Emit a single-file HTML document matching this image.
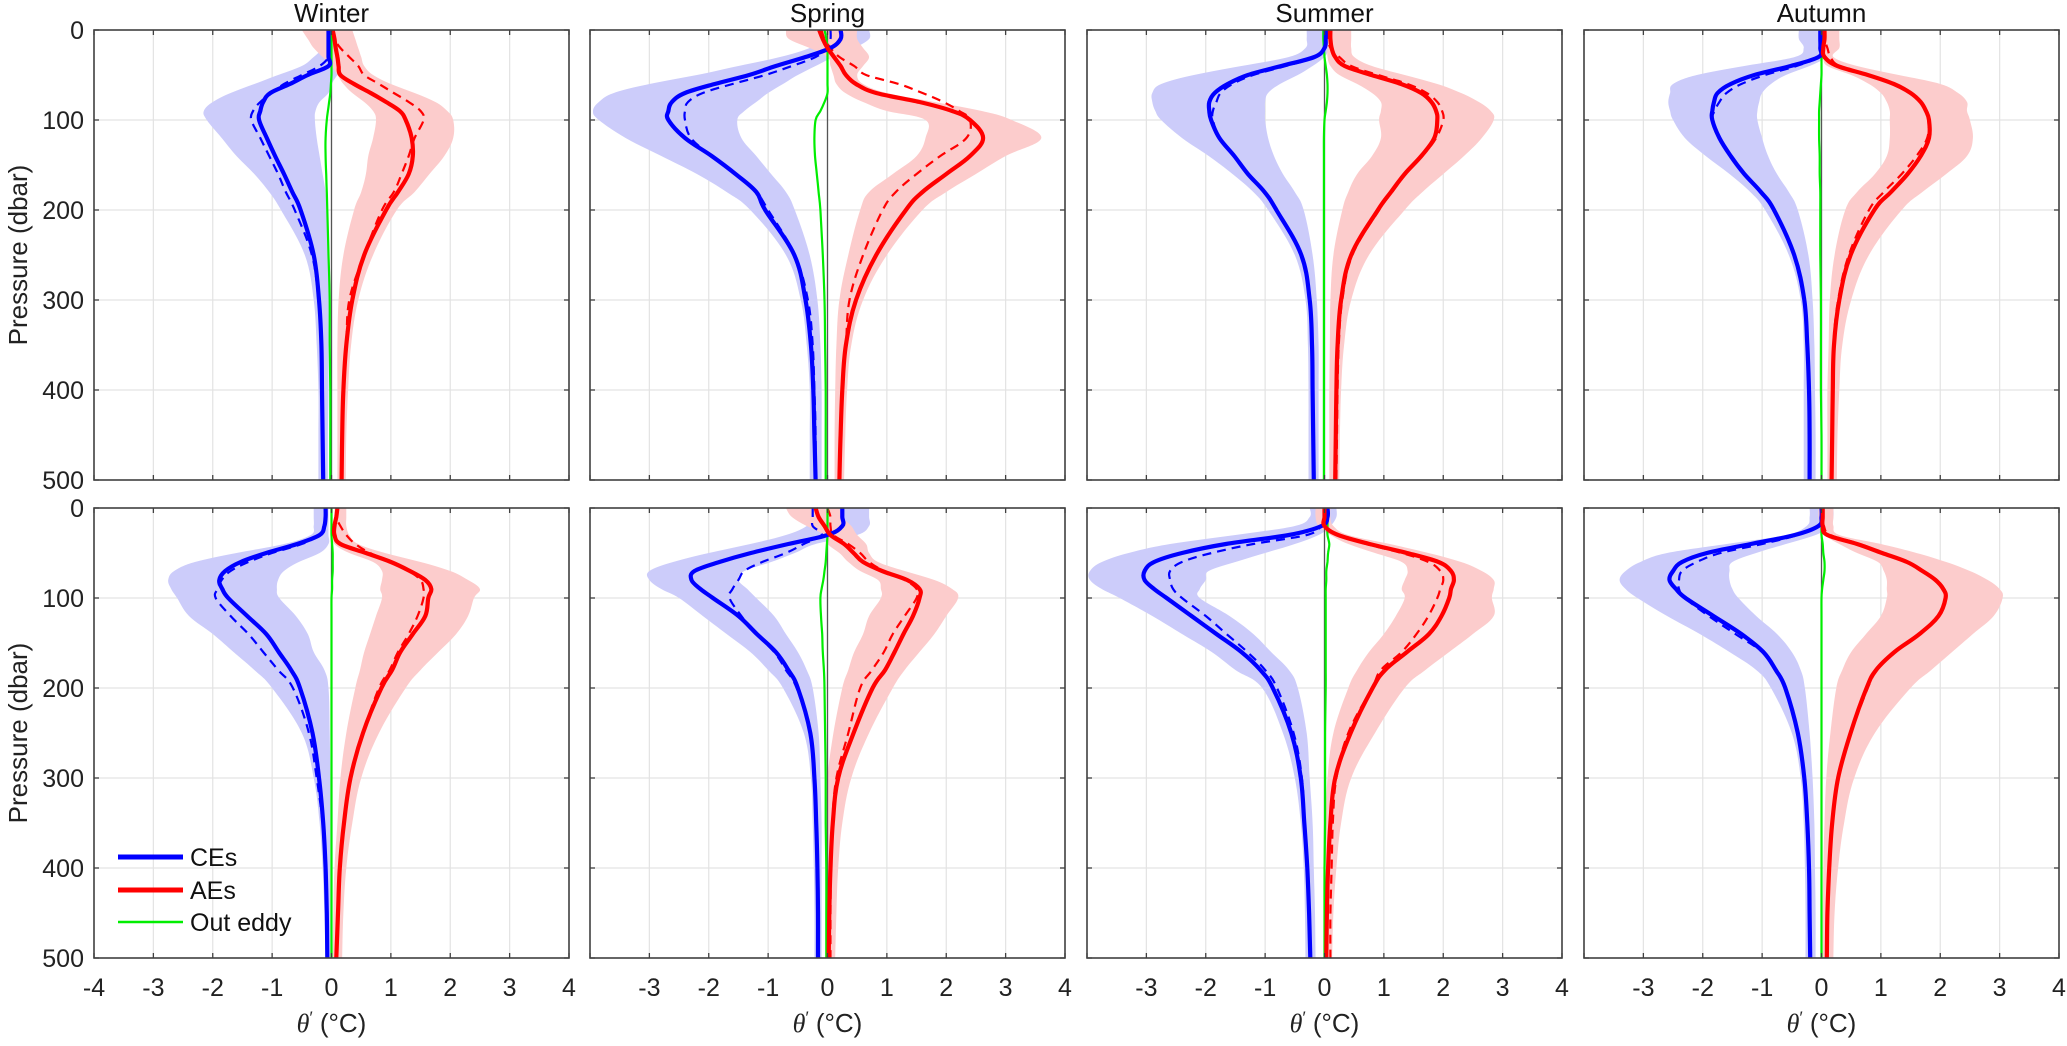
<!DOCTYPE html>
<html><head><meta charset="utf-8"><style>
html,body{margin:0;padding:0;background:#fff;}
svg{display:block;font-family:"Liberation Sans",Arial,sans-serif;}
</style></head><body>
<svg id="fig" width="2067" height="1046" viewBox="0 0 2067 1046" xmlns="http://www.w3.org/2000/svg"></svg>
<script>
const depths=[0,10,20,30,40,50,60,70,80,90,100,120,140,160,180,200,250,300,350,400,450,500];
const xTicks=[-4,-3,-2,-1,0,1,2,3,4];
const yTicks=[0,100,200,300,400,500];
const titles=["Winter","Spring","Summer","Autumn","","","",""];
// Panel 0: Winter top
const p0ceM=[-0.05,-0.05,-0.05,-0.05,-0.05,-0.4,-0.7,-1.03,-1.15,-1.2,-1.22,-1.09,-0.95,-0.8,-0.66,-0.52,-0.3,-0.21,-0.17,-0.16,-0.15,-0.14];
const p0ceD=[-0.05,-0.05,-0.05,-0.05,-0.2,-0.5,-0.8,-1.0,-1.2,-1.32,-1.35,-1.2,-1.05,-0.9,-0.77,-0.62,-0.33,-0.22,-0.17,-0.16,-0.15,-0.14];
const p0ceLo=[-0.1,-0.1,-0.15,-0.3,-0.5,-0.9,-1.3,-1.7,-2.0,-2.15,-2.1,-1.85,-1.6,-1.3,-1.05,-0.85,-0.45,-0.3,-0.25,-0.22,-0.22,-0.22];
const p0ceHi=[0.3,0.35,0.35,0.3,0.2,0.1,0.0,-0.05,-0.2,-0.27,-0.28,-0.25,-0.2,-0.15,-0.1,-0.08,-0.05,-0.04,-0.05,-0.05,-0.06,-0.06];
const p0aeM=[0.02,0.05,0.07,0.1,0.12,0.15,0.38,0.66,0.92,1.15,1.25,1.35,1.37,1.3,1.12,0.92,0.55,0.35,0.25,0.2,0.18,0.17];
const p0aeD=[0.02,0.05,0.15,0.3,0.45,0.55,0.8,1.05,1.3,1.5,1.55,1.4,1.3,1.18,1.05,0.85,0.55,0.3,0.25,0.2,0.18,0.17];
const p0aeLo=[-0.5,-0.4,-0.3,-0.15,0.0,0.1,0.2,0.35,0.55,0.7,0.75,0.7,0.62,0.58,0.5,0.38,0.2,0.12,0.1,0.1,0.1,0.1];
const p0aeHi=[0.35,0.4,0.45,0.5,0.55,0.7,1.0,1.4,1.75,1.95,2.05,2.05,1.9,1.65,1.4,1.1,0.7,0.45,0.33,0.28,0.25,0.24];
const p0out=[0,0,0,0,0,0,-0.01,-0.02,-0.04,-0.06,-0.08,-0.1,-0.1,-0.09,-0.08,-0.07,-0.05,-0.03,-0.03,-0.02,-0.02,-0.02];
// Panel 1: Spring top
const p1ceM=[0.22,0.22,0.05,-0.37,-0.87,-1.32,-1.9,-2.4,-2.62,-2.68,-2.68,-2.4,-1.95,-1.55,-1.2,-1.05,-0.56,-0.37,-0.28,-0.24,-0.22,-0.2];
const p1ceD=[0.05,0.05,0.0,-0.2,-0.6,-1.05,-1.6,-2.1,-2.35,-2.4,-2.4,-2.3,-1.95,-1.55,-1.2,-1.0,-0.55,-0.33,-0.25,-0.22,-0.2,-0.2];
const p1ceLo=[-0.1,-0.1,-0.3,-0.8,-1.5,-2.2,-3.0,-3.6,-3.85,-3.95,-3.85,-3.4,-2.8,-2.2,-1.7,-1.3,-0.7,-0.45,-0.35,-0.3,-0.3,-0.3];
const p1ceHi=[0.7,0.7,0.45,0.1,-0.2,-0.5,-0.75,-1.0,-1.2,-1.4,-1.52,-1.45,-1.2,-0.95,-0.7,-0.55,-0.3,-0.17,-0.12,-0.1,-0.1,-0.1];
const p1aeM=[-0.14,-0.08,0.0,0.11,0.22,0.31,0.48,0.82,1.55,2.1,2.4,2.62,2.4,2.0,1.6,1.32,0.82,0.48,0.31,0.25,0.22,0.2];
const p1aeD=[-0.1,-0.05,0.05,0.2,0.45,0.65,1.2,1.6,1.95,2.22,2.4,2.34,1.9,1.5,1.15,0.93,0.6,0.37,0.31,0.25,0.22,0.2];
const p1aeLo=[-0.7,-0.65,-0.3,0.0,0.05,0.1,0.15,0.3,0.6,1.0,1.65,1.65,1.5,1.1,0.7,0.55,0.35,0.2,0.15,0.13,0.12,0.12];
const p1aeHi=[0.5,0.5,0.6,0.7,0.6,0.5,0.6,1.0,1.8,2.6,3.1,3.6,3.0,2.5,2.0,1.6,1.0,0.6,0.4,0.33,0.3,0.28];
const p1out=[-0.05,-0.02,0,0,0,0,0,0,-0.05,-0.12,-0.2,-0.22,-0.21,-0.18,-0.15,-0.12,-0.08,-0.05,-0.04,-0.03,-0.03,-0.03];
// Panel 2: Summer top
const p2ceM=[0.02,0.02,0.0,-0.17,-0.73,-1.29,-1.63,-1.85,-1.94,-1.94,-1.91,-1.77,-1.52,-1.29,-1.01,-0.81,-0.39,-0.25,-0.21,-0.2,-0.19,-0.18];
const p2ceD=[0.02,0.02,0.0,-0.15,-0.65,-1.2,-1.55,-1.75,-1.82,-1.88,-1.88,-1.77,-1.52,-1.29,-1.01,-0.81,-0.39,-0.25,-0.21,-0.2,-0.19,-0.18];
const p2ceLo=[-0.3,-0.3,-0.32,-0.6,-1.4,-2.2,-2.75,-2.9,-2.9,-2.85,-2.75,-2.4,-1.95,-1.55,-1.2,-0.95,-0.5,-0.32,-0.28,-0.27,-0.27,-0.27];
const p2ceHi=[0.3,0.3,0.1,0.0,-0.2,-0.45,-0.75,-0.95,-1.0,-1.0,-1.0,-0.95,-0.85,-0.7,-0.5,-0.35,-0.2,-0.13,-0.1,-0.1,-0.1,-0.1];
const p2aeM=[0.1,0.1,0.12,0.18,0.34,0.79,1.29,1.63,1.8,1.88,1.9,1.85,1.63,1.35,1.12,0.9,0.45,0.28,0.22,0.2,0.19,0.18];
const p2aeD=[0.05,0.07,0.1,0.25,0.45,0.9,1.4,1.72,1.9,1.98,2.0,1.88,1.65,1.37,1.14,0.92,0.47,0.3,0.24,0.22,0.21,0.2];
const p2aeLo=[0.05,0.05,0.05,0.05,0.1,0.25,0.55,0.8,0.95,0.95,0.92,0.95,0.8,0.55,0.4,0.3,0.15,0.1,0.09,0.08,0.08,0.08];
const p2aeHi=[0.45,0.45,0.45,0.5,0.8,1.35,1.9,2.3,2.6,2.8,2.85,2.65,2.35,2.0,1.65,1.35,0.75,0.45,0.33,0.28,0.26,0.25];
const p2out=[-0.02,-0.02,-0.01,0,0.02,0.04,0.05,0.05,0.04,0.02,0.0,-0.01,-0.01,-0.01,-0.01,-0.01,-0.01,-0.01,-0.01,-0.01,-0.01,-0.01];
// Panel 3: Autumn top
const p3ceM=[-0.02,-0.02,-0.02,-0.05,-0.52,-1.13,-1.53,-1.75,-1.81,-1.84,-1.84,-1.72,-1.53,-1.3,-1.02,-0.8,-0.46,-0.29,-0.24,-0.21,-0.2,-0.2];
const p3ceD=[-0.02,-0.02,-0.02,-0.05,-0.42,-0.95,-1.35,-1.6,-1.72,-1.8,-1.84,-1.72,-1.53,-1.3,-1.02,-0.8,-0.46,-0.29,-0.24,-0.21,-0.2,-0.2];
const p3ceLo=[-0.38,-0.38,-0.3,-0.45,-1.3,-2.1,-2.5,-2.55,-2.58,-2.55,-2.5,-2.3,-1.95,-1.55,-1.2,-0.95,-0.55,-0.35,-0.3,-0.3,-0.3,-0.3];
const p3ceHi=[0.22,0.2,0.25,0.1,-0.2,-0.6,-0.85,-1.0,-1.05,-1.08,-1.08,-1.0,-0.9,-0.75,-0.55,-0.4,-0.22,-0.15,-0.12,-0.11,-0.1,-0.1];
const p3aeM=[0.05,0.05,0.03,0.05,0.27,0.78,1.22,1.5,1.67,1.76,1.81,1.81,1.67,1.45,1.17,0.89,0.49,0.3,0.21,0.19,0.18,0.17];
const p3aeD=[0.05,0.05,0.1,0.15,0.3,0.78,1.22,1.5,1.67,1.76,1.8,1.78,1.6,1.35,1.05,0.8,0.46,0.28,0.2,0.18,0.17,0.16];
const p3aeLo=[0.0,0.0,0.02,0.03,0.1,0.5,0.8,1.0,1.1,1.15,1.15,1.15,1.1,0.9,0.6,0.4,0.22,0.14,0.12,0.1,0.1,0.1];
const p3aeHi=[0.3,0.3,0.3,0.2,0.6,1.3,2.0,2.3,2.45,2.45,2.5,2.55,2.45,2.1,1.7,1.35,0.8,0.5,0.35,0.3,0.27,0.26];
const p3out=[0,0,0,0,0,0,-0.01,-0.02,-0.03,-0.04,-0.04,-0.04,-0.03,-0.03,-0.02,-0.02,-0.02,-0.01,-0.01,-0.01,0,0];
// Panel 4: Winter bottom
const p4ceM=[-0.1,-0.1,-0.12,-0.2,-0.58,-1.1,-1.53,-1.79,-1.89,-1.84,-1.74,-1.42,-1.1,-0.89,-0.68,-0.53,-0.32,-0.21,-0.14,-0.1,-0.08,-0.07];
const p4ceD=[-0.1,-0.1,-0.12,-0.2,-0.5,-1.0,-1.4,-1.7,-1.85,-1.92,-1.95,-1.7,-1.4,-1.15,-0.9,-0.65,-0.38,-0.25,-0.15,-0.1,-0.08,-0.07];
const p4ceLo=[-0.3,-0.3,-0.3,-0.35,-0.8,-1.6,-2.3,-2.65,-2.75,-2.7,-2.6,-2.4,-2.0,-1.65,-1.3,-1.0,-0.5,-0.3,-0.2,-0.15,-0.12,-0.1];
const p4ceHi=[-0.05,-0.05,-0.05,-0.05,-0.05,-0.2,-0.55,-0.8,-0.9,-0.92,-0.88,-0.6,-0.4,-0.3,-0.12,-0.05,-0.03,-0.02,-0.02,-0.02,-0.02,-0.02];
const p4aeM=[0.1,0.08,0.05,0.05,0.15,0.58,1.0,1.32,1.58,1.68,1.63,1.58,1.37,1.16,1.02,0.84,0.53,0.32,0.21,0.14,0.11,0.08];
const p4aeD=[0.1,0.08,0.15,0.25,0.4,0.65,1.0,1.3,1.5,1.55,1.55,1.45,1.3,1.12,0.98,0.8,0.53,0.32,0.21,0.14,0.11,0.08];
const p4aeLo=[0.05,0.05,0.05,0.05,0.05,0.3,0.7,0.85,0.85,0.82,0.85,0.75,0.65,0.55,0.48,0.4,0.25,0.15,0.1,0.05,0.03,0.02];
const p4aeHi=[0.25,0.25,0.25,0.3,0.45,0.9,1.5,2.0,2.3,2.5,2.4,2.3,2.1,1.8,1.5,1.25,0.8,0.5,0.35,0.25,0.2,0.18];
const p4out=[0,0,0,0,0.01,0.02,0.02,0.02,0.01,0.01,0,0,0,0,0,0,0,0,0,0,0,0];
// Panel 5: Spring bottom
const p5ceM=[0.25,0.25,0.25,0.0,-0.66,-1.29,-1.82,-2.24,-2.29,-2.14,-1.93,-1.5,-1.19,-0.87,-0.66,-0.5,-0.29,-0.22,-0.19,-0.17,-0.16,-0.16];
const p5ceD=[-0.25,-0.25,-0.25,-0.1,-0.4,-0.7,-1.1,-1.4,-1.5,-1.6,-1.65,-1.45,-1.2,-0.9,-0.7,-0.52,-0.29,-0.22,-0.19,-0.17,-0.16,-0.16];
const p5ceLo=[-0.3,-0.3,-0.35,-0.7,-1.3,-2.0,-2.6,-3.0,-3.0,-2.8,-2.5,-2.1,-1.7,-1.3,-1.0,-0.75,-0.4,-0.28,-0.25,-0.23,-0.22,-0.22];
const p5ceHi=[0.7,0.7,0.7,0.5,-0.2,-0.55,-0.95,-1.4,-1.5,-1.35,-1.2,-0.9,-0.7,-0.5,-0.35,-0.25,-0.15,-0.12,-0.1,-0.1,-0.1,-0.1];
const p5aeM=[-0.2,-0.15,-0.05,0.05,0.28,0.44,0.6,0.92,1.34,1.55,1.55,1.44,1.28,1.13,0.97,0.76,0.44,0.18,0.09,0.05,0.03,0.02];
const p5aeD=[0.0,0.05,0.05,0.1,0.35,0.55,0.7,0.95,1.3,1.5,1.5,1.3,1.1,0.95,0.75,0.55,0.35,0.15,0.08,0.06,0.05,0.05];
const p5aeLo=[-0.7,-0.6,-0.35,-0.05,0.0,0.2,0.35,0.55,0.85,0.9,0.9,0.7,0.6,0.45,0.35,0.25,0.1,0.0,-0.02,-0.03,-0.03,-0.03];
const p5aeHi=[0.2,0.25,0.4,0.5,0.65,0.7,0.85,1.3,1.8,2.1,2.2,2.0,1.8,1.55,1.3,1.1,0.7,0.4,0.25,0.18,0.15,0.13];
const p5out=[0,0,0,0,-0.01,-0.02,-0.03,-0.05,-0.07,-0.1,-0.12,-0.11,-0.09,-0.08,-0.06,-0.05,-0.04,-0.03,-0.03,-0.02,-0.02,-0.02];
// Panel 6: Summer bottom
const p6ceM=[0.05,0.05,-0.05,-0.6,-1.66,-2.4,-2.87,-3.03,-3.03,-2.87,-2.66,-2.24,-1.82,-1.4,-1.08,-0.87,-0.56,-0.4,-0.34,-0.29,-0.26,-0.24];
const p6ceD=[0.05,0.05,-0.05,-0.3,-1.2,-1.9,-2.4,-2.6,-2.6,-2.55,-2.4,-2.0,-1.65,-1.3,-1.0,-0.8,-0.52,-0.38,-0.34,-0.29,-0.26,-0.24];
const p6ceLo=[-0.25,-0.25,-0.5,-1.5,-2.6,-3.3,-3.75,-3.95,-3.95,-3.75,-3.45,-2.9,-2.4,-1.9,-1.5,-1.05,-0.7,-0.5,-0.4,-0.35,-0.33,-0.32];
const p6ceHi=[0.2,0.2,0.1,-0.1,-0.5,-1.0,-1.5,-1.95,-2.0,-2.1,-2.1,-1.6,-1.2,-0.9,-0.6,-0.45,-0.3,-0.25,-0.2,-0.18,-0.16,-0.15];
const p6aeM=[0.0,0.0,0.0,0.23,0.76,1.39,1.92,2.13,2.18,2.13,2.1,1.97,1.76,1.39,1.02,0.81,0.44,0.18,0.1,0.06,0.04,0.03];
const p6aeD=[0.0,0.0,0.0,0.25,0.7,1.3,1.75,1.95,2.0,1.95,1.9,1.75,1.55,1.3,0.95,0.8,0.4,0.2,0.14,0.12,0.1,0.1];
const p6aeLo=[-0.15,-0.15,-0.1,0.1,0.4,0.85,1.3,1.4,1.35,1.3,1.35,1.2,1.0,0.75,0.55,0.4,0.15,0.05,0.02,0.0,0.0,0.0];
const p6aeHi=[0.1,0.1,0.15,0.4,1.1,1.75,2.3,2.65,2.85,2.85,2.82,2.85,2.5,2.1,1.7,1.35,0.85,0.45,0.28,0.2,0.15,0.13];
const p6out=[0.05,0.05,0.05,0.05,0.08,0.06,0.05,0.03,0.03,0.02,0.02,0.02,0.02,0.02,0.02,0.02,0.01,0.01,0.01,0.0,0.0,0.0];
// Panel 7: Autumn bottom
const p7ceM=[0.0,0.0,-0.05,-0.45,-1.19,-1.93,-2.35,-2.5,-2.56,-2.45,-2.29,-1.82,-1.35,-0.98,-0.77,-0.61,-0.4,-0.29,-0.24,-0.21,-0.2,-0.19];
const p7ceD=[0.0,0.0,-0.05,-0.4,-1.0,-1.7,-2.1,-2.35,-2.4,-2.4,-2.3,-1.9,-1.45,-1.0,-0.78,-0.62,-0.4,-0.29,-0.24,-0.21,-0.2,-0.19];
const p7ceLo=[-0.2,-0.2,-0.25,-0.6,-1.6,-2.6,-3.05,-3.3,-3.4,-3.3,-3.1,-2.6,-2.05,-1.55,-1.1,-0.85,-0.5,-0.35,-0.3,-0.28,-0.27,-0.27];
const p7ceHi=[0.2,0.2,0.15,-0.1,-0.6,-1.1,-1.5,-1.55,-1.55,-1.5,-1.4,-1.1,-0.75,-0.5,-0.35,-0.28,-0.2,-0.15,-0.12,-0.11,-0.1,-0.1];
const p7aeM=[0.02,0.02,0.02,0.1,0.6,1.02,1.44,1.7,1.92,2.05,2.09,1.97,1.65,1.23,0.92,0.76,0.49,0.28,0.18,0.13,0.1,0.09];
const p7aeD=[0.02,0.02,0.04,0.15,0.65,1.04,1.46,1.72,1.94,2.07,2.1,1.98,1.66,1.25,0.94,0.78,0.5,0.29,0.19,0.14,0.11,0.1];
const p7aeLo=[-0.05,-0.05,-0.02,0.05,0.3,0.6,0.95,1.05,1.1,1.1,1.1,1.0,0.75,0.5,0.35,0.25,0.15,0.08,0.05,0.03,0.02,0.02];
const p7aeHi=[0.2,0.2,0.2,0.3,1.0,1.6,2.1,2.5,2.8,3.0,3.05,2.9,2.55,2.2,1.85,1.5,0.9,0.55,0.38,0.28,0.22,0.2];
const p7out=[0,0,0,0,0.02,0.03,0.05,0.05,0.03,0.01,0,0,0,0,0,0,0,0,0,0,0,0];

const panels=[
 {ceM:p0ceM,ceD:p0ceD,ceLo:p0ceLo,ceHi:p0ceHi,aeM:p0aeM,aeD:p0aeD,aeLo:p0aeLo,aeHi:p0aeHi,out:p0out},
 {ceM:p1ceM,ceD:p1ceD,ceLo:p1ceLo,ceHi:p1ceHi,aeM:p1aeM,aeD:p1aeD,aeLo:p1aeLo,aeHi:p1aeHi,out:p1out},
 {ceM:p2ceM,ceD:p2ceD,ceLo:p2ceLo,ceHi:p2ceHi,aeM:p2aeM,aeD:p2aeD,aeLo:p2aeLo,aeHi:p2aeHi,out:p2out},
 {ceM:p3ceM,ceD:p3ceD,ceLo:p3ceLo,ceHi:p3ceHi,aeM:p3aeM,aeD:p3aeD,aeLo:p3aeLo,aeHi:p3aeHi,out:p3out},
 {ceM:p4ceM,ceD:p4ceD,ceLo:p4ceLo,ceHi:p4ceHi,aeM:p4aeM,aeD:p4aeD,aeLo:p4aeLo,aeHi:p4aeHi,out:p4out},
 {ceM:p5ceM,ceD:p5ceD,ceLo:p5ceLo,ceHi:p5ceHi,aeM:p5aeM,aeD:p5aeD,aeLo:p5aeLo,aeHi:p5aeHi,out:p5out},
 {ceM:p6ceM,ceD:p6ceD,ceLo:p6ceLo,ceHi:p6ceHi,aeM:p6aeM,aeD:p6aeD,aeLo:p6aeLo,aeHi:p6aeHi,out:p6out},
 {ceM:p7ceM,ceD:p7ceD,ceLo:p7ceLo,ceHi:p7ceHi,aeM:p7aeM,aeD:p7aeD,aeLo:p7aeLo,aeHi:p7aeHi,out:p7out}
];
const seasonNames=["winter-top","spring-top","summer-top","autumn-top","winter-bottom","spring-bottom","summer-bottom","autumn-bottom"];

const NS="http://www.w3.org/2000/svg";
const svg=document.getElementById('fig');
function mk(tag,attrs,parent){const e=document.createElementNS(NS,tag);for(const k in attrs)e.setAttribute(k,attrs[k]);(parent||svg).appendChild(e);return e;}

const lefts=[94,590,1087,1584], W=475, tops=[30,508], H=450;

function smoothPath(pts){
  let d='M'+pts[0][0].toFixed(1)+','+pts[0][1].toFixed(1);
  for(let i=0;i<pts.length-1;i++){
    const p0=pts[i-1]||pts[i],p1=pts[i],p2=pts[i+1],p3=pts[i+2]||p2;
    const t=0.18;
    const c1=[p1[0]+(p2[0]-p0[0])*t,p1[1]+(p2[1]-p0[1])*t];
    const c2=[p2[0]-(p3[0]-p1[0])*t,p2[1]-(p3[1]-p1[1])*t];
    d+='C'+c1[0].toFixed(1)+','+c1[1].toFixed(1)+' '+c2[0].toFixed(1)+','+c2[1].toFixed(1)+' '+p2[0].toFixed(1)+','+p2[1].toFixed(1);
  }
  return d;
}

panels.forEach((P,i)=>{
  const col=i%4,row=Math.floor(i/4);
  const L=lefts[col],T=tops[row];
  const xs=v=>L+(v+4)/8*W;
  const ys=d=>T+d/500*H;
  const g=mk('g',{});
  
  
  xTicks.forEach(t=>{if(t>-4&&t<4){const l=mk('line',{x1:xs(t),x2:xs(t),y1:T,y2:T+H,stroke:'#e3e3e3','stroke-width':1.2},g);}});
  yTicks.forEach(t=>{if(t>0&&t<500){const l=mk('line',{x1:L,x2:L+W,y1:ys(t),y2:ys(t),stroke:'#e3e3e3','stroke-width':1.2},g);}});
  function band(lo,hi,fill,name){
    const pts=depths.map((d,k)=>[xs(lo[k]),ys(d)]);
    const pts2=depths.map((d,k)=>[xs(hi[k]),ys(d)]).reverse();
    const d1=smoothPath(pts), d2=smoothPath(pts2).replace('M','L');
    const p=mk('path',{d:d1+d2+'Z',fill:fill,stroke:'none'},g);
    
    
  }
  band(P.ceLo,P.ceHi,'rgb(204,204,250)','ce-spread-band');
  band(P.aeLo,P.aeHi,'rgb(252,204,204)','ae-spread-band');
  const z=mk('line',{x1:xs(0),x2:xs(0),y1:T,y2:T+H,stroke:'#555','stroke-width':1.3},g);
  
  
  function line(arr,color,w,dash,name){
    const pts=depths.map((d,k)=>[xs(arr[k]),ys(d)]);
    const a={d:smoothPath(pts),fill:'none',stroke:color,'stroke-width':w,'stroke-linejoin':'round'};
    if(dash)a['stroke-dasharray']=dash;
    const p=mk('path',a,g);
    
    
  }
  line(P.ceD,'#0000ff',2.2,'9,6','ce-dashed-line');
  line(P.aeD,'#ff0000',2.2,'9,6','ae-dashed-line');
  line(P.out,'#00ee00',2.2,null,'out-eddy-line');
  line(P.ceM,'#0000ff',4.2,null,'ce-mean-line');
  line(P.aeM,'#ff0000',4.2,null,'ae-mean-line');
  const b=mk('rect',{x:L,y:T,width:W,height:H,fill:'none',stroke:'#404040','stroke-width':1.6},g);
  
  
  xTicks.forEach(t=>{
    mk('line',{x1:xs(t),x2:xs(t),y1:T+H,y2:T+H-5,stroke:'#404040','stroke-width':1.3},g);
    mk('line',{x1:xs(t),x2:xs(t),y1:T,y2:T+5,stroke:'#404040','stroke-width':1.3},g);
  });
  yTicks.forEach(t=>{
    mk('line',{x1:L,x2:L+5,y1:ys(t),y2:ys(t),stroke:'#404040','stroke-width':1.3},g);
    mk('line',{x1:L+W,x2:L+W-5,y1:ys(t),y2:ys(t),stroke:'#404040','stroke-width':1.3},g);
  });
  if(titles[i]){
    const tt=mk('text',{x:L+W/2,y:22,'font-size':26,'text-anchor':'middle',fill:'#111'},g);
    tt.textContent=titles[i];
    
    
  }
  if(col===0){
    yTicks.forEach(t=>{
      const tx=mk('text',{x:L-10,y:ys(t)+9,'font-size':25,'text-anchor':'end',fill:'#222'},g);
      tx.textContent=t;
      
      
    });
    const yl=mk('text',{x:0,y:0,'font-size':26,'text-anchor':'middle',fill:'#222',transform:'translate(27,'+(T+H/2)+') rotate(-90)'},g);
    yl.textContent='Pressure (dbar)';
    
    
  }
  if(row===1){
    xTicks.forEach(t=>{
      if(col>0&&t===-4)return;
      const tx=mk('text',{x:xs(t),y:T+H+38,'font-size':25,'text-anchor':'middle',fill:'#222'},g);
      tx.textContent=t;
      
      
    });
    const xl=mk('text',{x:L+W/2,y:T+H+74,'font-size':26,'text-anchor':'middle',fill:'#222'},g);
    xl.innerHTML='<tspan font-family="Liberation Serif" font-style="italic">θ</tspan><tspan dy="-9" font-size="17">′</tspan><tspan dy="9"> (°C)</tspan>';
    
    
  }
});
const lg=mk('g',{});


const legendItems=[["CEs","#0000ff",5,857],["AEs","#ff0000",5,890],["Out eddy","#00ee00",2.5,922]];
legendItems.forEach(it=>{
  const l=mk('line',{x1:118,x2:183,y1:it[3],y2:it[3],stroke:it[1],'stroke-width':it[2]},lg);
  
  
  const t=mk('text',{x:190,y:it[3]+9,'font-size':25,fill:'#111'},lg);
  t.textContent=it[0];
  
  
});
</script>
</body></html>
